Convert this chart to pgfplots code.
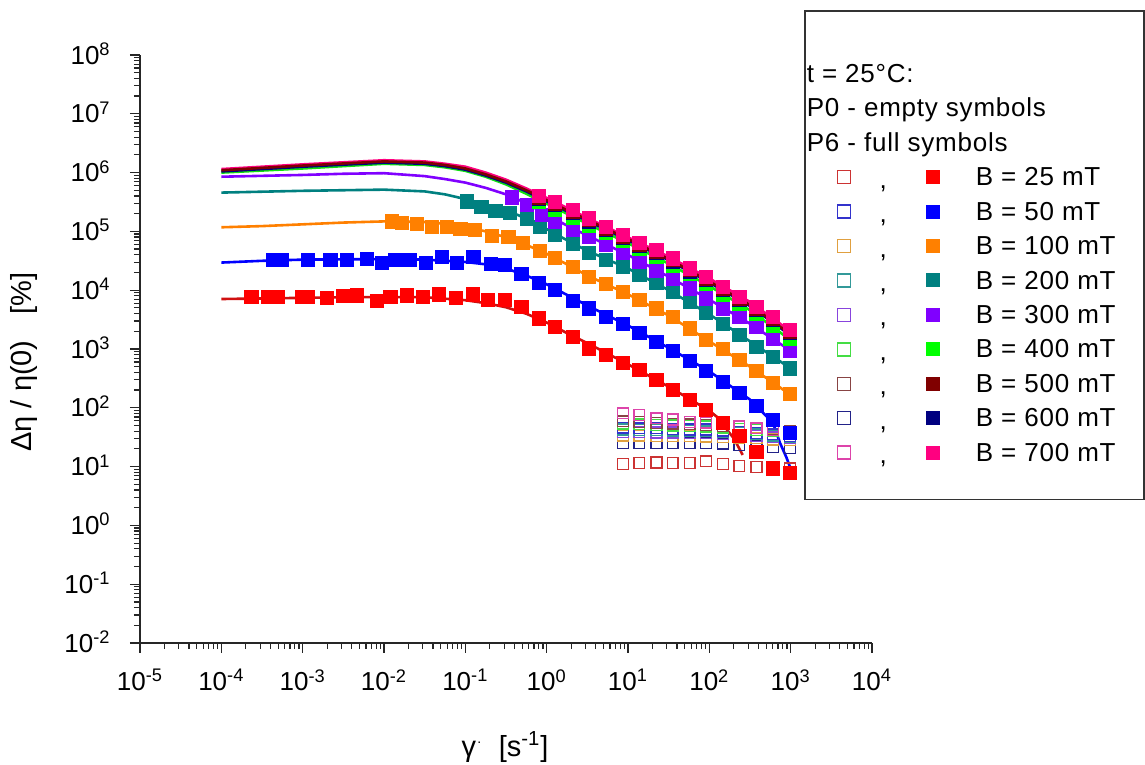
\documentclass[border=0pt]{standalone}
\usepackage{pgfplots}
\pgfplotsset{compat=1.18}
\usepackage{fontspec}
\setmainfont{Liberation Sans}
\newfontfamily\legfont[LetterSpace=3]{Liberation Sans}
\definecolor{c1}{HTML}{FF0000}\definecolor{l1}{HTML}{D01010}
\definecolor{c2}{HTML}{0000FF}
\definecolor{c3}{HTML}{FF8000}
\definecolor{c4}{HTML}{008080}
\definecolor{c5}{HTML}{8000FF}
\definecolor{c6}{HTML}{00FF00}\definecolor{l6}{HTML}{10E010}
\definecolor{c7}{HTML}{800000}
\definecolor{c8}{HTML}{000080}
\definecolor{c9}{HTML}{FF0080}
\definecolor{o1}{HTML}{CC3333}
\definecolor{o2}{HTML}{3333CC}
\definecolor{o3}{HTML}{E0A040}
\definecolor{o4}{HTML}{339999}
\definecolor{o5}{HTML}{8844DD}
\definecolor{o6}{HTML}{44DD44}
\definecolor{o7}{HTML}{884444}
\definecolor{o8}{HTML}{222288}
\definecolor{o9}{HTML}{DD44AA}
\newcommand\tfs{\fontsize{13}{15}\selectfont}
\newcommand\lfs{\legfont\fontsize{13}{15}\selectfont}
\newcommand\lstrut{\rule{0pt}{12.9pt}}
\newcommand\hdr[1]{\makebox[83pt][l]{\lstrut\hspace*{-84.5pt}#1}}
\newcommand\ent[1]{\makebox[83pt][l]{\lstrut #1}}
\pgfplotsset{
  legkey/.style 2 args={legend image code/.code={
     \path[draw=none, fill=none] (0pt,-1pt) rectangle (84.5pt,1pt);
     \draw[draw=#1, fill=none, line width=0.7pt] (15.25pt,-3.25pt) rectangle (21.75pt,3.25pt);
     \node[overlay, inner sep=0pt, font=\lfs, text=black] at (36pt,-7pt) {,};
     \fill[#2, draw=none] (59.5pt,-3.5pt) rectangle (66.5pt,3.5pt);
  }},
  fs/.style={only marks, mark=square*, mark size=3.3pt, color=#1, forget plot},
  os/.style={only marks, mark=square, mark size=2.7pt, mark options={line width=0.7pt}, color=#1, forget plot},
  ln/.style={no marks, line width=1.3pt, color=#1, forget plot},
}
\begin{document}
\begin{tikzpicture}
\useasboundingbox (0,0) rectangle (572.5pt,382.5pt);
\begin{axis}[
  at={(70pt,61pt)}, anchor=south west,
  scale only axis, width=366pt, height=294pt,
  xmode=log, ymode=log,
  xmin=1e-5, xmax=1e4, ymin=1e-2, ymax=1e8,
  axis x line*=bottom, axis y line*=left,
  axis line style={line width=0.75pt, black!85},
  tick align=outside,
  major tick length=5pt, minor tick length=3pt,
  every tick/.append style={black!85, line width=0.6pt},
  xtick={1e-5,1e-4,1e-3,1e-2,1e-1,1,1e1,1e2,1e3,1e4},
  xticklabels={10\textsuperscript{-5},10\textsuperscript{-4},10\textsuperscript{-3},10\textsuperscript{-2},10\textsuperscript{-1},10\textsuperscript{0},10\textsuperscript{1},10\textsuperscript{2},10\textsuperscript{3},10\textsuperscript{4}},
  ytick={1e-2,1e-1,1,1e1,1e2,1e3,1e4,1e5,1e6,1e7,1e8},
  yticklabels={10\textsuperscript{-2},10\textsuperscript{-1},10\textsuperscript{0},10\textsuperscript{1},10\textsuperscript{2},10\textsuperscript{3},10\textsuperscript{4},10\textsuperscript{5},10\textsuperscript{6},10\textsuperscript{7},10\textsuperscript{8}},
  tick label style={font=\tfs},
  xticklabel style={anchor=north, inner sep=0pt, yshift=-8pt},
  yticklabel style={anchor=base east, inner sep=0pt, yshift=-4.6pt, xshift=-9.5pt},
  xlabel={γ\kern0.05em\raisebox{0.45em}{\scriptsize .}\hspace{0.6em}[s\textsuperscript{-1}]},
  ylabel={Δη / η(0)\hspace{0.9em}[\%]},
  label style={font=\fontsize{14.5}{16}\selectfont},
  xlabel style={at={(axis description cs:0.4986,-0.177)}, anchor=center},
  ylabel style={at={(axis description cs:-0.158,0.478)}, anchor=center, rotate=0},
  legend cell align=left,
  legend style={at={(axis description cs:0.9071,1.0765)}, anchor=north west,
     draw=black!80, line width=0.8pt, fill=white,
     inner xsep=1pt, inner ysep=14.9pt, row sep=0pt, column sep=0pt,
     nodes={inner sep=0pt, text depth=4.32pt}, font=\lfs},
]
% ---------- P0 (empty symbols) ----------
\addplot[os=o1] coordinates {(8.71,11.0) (13.8,11.5) (22.4,11.7) (35.5,11.5) (57.5,11.5) (91.2,12.3) (148,11.0) (234,10.2) (380,9.77) (603,9.55) (977,9.33)};
\addplot[os=o8] coordinates {(8.71,25.1) (13.8,25.1) (22.4,25.1) (35.5,25.1) (57.5,25.1) (91.2,25.1) (148,24.5) (234,23.4) (380,21.9) (603,21.4) (977,20.4)};
\addplot[os=o3] coordinates {(8.71,33.9) (13.8,33.9) (22.4,33.1) (35.5,33.1) (57.5,33.1) (91.2,32.4) (148,31.6) (234,30.9) (380,30.2) (603,28.8) (977,28.2)};
\addplot[os=o5] coordinates {(8.71,38.9) (13.8,38.9) (22.4,38.0) (35.5,38.0) (57.5,37.2) (91.2,37.2) (148,35.5) (234,34.7) (380,33.1) (603,31.6) (977,30.2)};
\addplot[os=o4] coordinates {(8.71,42.7) (13.8,41.7) (22.4,41.7) (35.5,40.7) (57.5,40.7) (91.2,39.8) (148,38.9) (234,37.2) (380,35.5) (603,33.9) (977,32.4)};
\addplot[os=o2] coordinates {(8.71,45.7) (13.8,44.7) (22.4,44.7) (35.5,43.7) (57.5,42.7) (91.2,42.7) (148,40.7) (234,38.9) (380,37.2) (603,35.5) (977,33.1)};
\addplot[os=o6] coordinates {(8.71,53.7) (13.8,52.5) (22.4,51.3) (35.5,50.1) (57.5,49.0) (91.2,47.9) (148,45.7) (234,43.7) (380,41.7) (603,39.8) (977,37.2)};
\addplot[os=o7] coordinates {(8.71,58.9) (13.8,57.5) (22.4,55.0) (35.5,53.7) (57.5,52.5) (91.2,51.3) (148,49.0) (234,46.8) (380,44.7) (603,42.7) (977,39.8)};
\addplot[os=o9] coordinates {(8.71,80.5) (13.8,75.9) (22.4,66.1) (35.5,63.1) (57.5,57.5) (91.2,56.2) (148,52.5) (234,47.9) (380,44.7) (603,41.7) (977,38.0)};
% ---------- 25 mT ----------
\addplot[ln=l1] coordinates {(1e-4,7080) (3.16e-4,7240) (1e-3,7410) (3.16e-3,7590) (1e-2,7670) (3.16e-2,7590) (0.1,6760) (0.178,6030) (0.316,5130) (0.562,3980) (1,2820) (1.778,1862) (3.16,1259) (10,550) (31.6,229) (100,89.1) (123,70.8) (200,30.2) (257,15.8)};
\addplot[fs=c1] coordinates {(0.000234,7590) (0.000380,7590) (0.000501,7590) (0.000977,7590) (0.00117,7590) (0.00200,7410) (0.00309,7940) (0.00468,8130) (0.00813,6610) (0.0120,7590) (0.0191,8130) (0.0302,7760) (0.0468,8510) (0.0759,7410) (0.123,8510) (0.191,6920) (0.309,6920) (0.490,5130) (0.794,3310) (1.26,2340) (2.09,1585) (3.31,1023) (5.37,794) (8.71,589) (13.8,437) (22.4,295) (35.5,204) (57.5,138) (91.2,91.2) (148,55.0) (234,33.1) (380,17.8) (603,9.33) (977,7.76)};
% ---------- 50 mT ----------
\addplot[ln=c2] coordinates {(1e-4,29500) (3.16e-4,31600) (1e-3,33100) (1e-2,33900) (3.16e-2,33100) (0.1,30200) (0.178,27540) (0.316,23440) (0.562,17780) (1,12590) (1.778,8320) (3.16,5500) (10,2510) (31.6,1047) (100,417) (316,138) (603,56.2) (741,25.1) (891,14.1) (977,10.0)};
\addplot[fs=c2] coordinates {(0.000437,32400) (0.000550,32400) (0.00117,32400) (0.00219,32400) (0.00347,32400) (0.00617,33900) (0.00933,29500) (0.0138,32400) (0.0209,32400) (0.0324,29500) (0.0513,37200) (0.0794,28800) (0.126,37200) (0.204,28200) (0.309,26900) (0.490,19100) (0.794,13200) (1.26,10000) (2.09,6610) (3.31,4900) (5.37,3550) (8.71,2690) (13.8,1905) (22.4,1318) (35.5,933) (57.5,631) (91.2,427) (148,275) (234,178) (380,107) (603,61.7) (977,37.2)};
% ---------- 100 mT ----------
\addplot[ln=c3] coordinates {(1e-4,117500) (3.16e-4,123000) (1e-3,131800) (3.16e-3,141300) (1e-2,147900) (3.16e-2,144500) (0.0562,134900) (0.1,120200) (0.178,100000) (0.316,79400) (0.562,58900) (1,41700) (1.778,27540) (3.16,17780) (10,8510) (31.6,3720) (100,1349) (316,501) (1000,166)};
\addplot[fs=c3] coordinates {(0.0126,148000) (0.0166,138000) (0.0251,135000) (0.0389,117500) (0.0589,117500) (0.0871,112000) (0.132,105000) (0.214,83200) (0.339,81300) (0.513,63100) (0.832,46800) (1.26,35500) (2.09,25100) (3.31,17000) (5.37,12900) (8.71,9330) (13.8,6760) (22.4,4900) (35.5,3470) (57.5,2240) (91.2,1445) (148,1000) (234,646) (380,427) (603,263) (977,170)};
% ---------- 200 mT ----------
\addplot[ln=c4] coordinates {(1e-4,457000) (1e-3,490000) (1e-2,513000) (3.16e-2,478600) (0.0562,426600) (0.1,354800) (0.178,288400) (0.316,229100) (0.562,166000) (1,109600) (1.778,70800) (3.16,46800) (10,23400) (31.6,10000) (100,3890) (316,1349) (1000,468)};
\addplot[fs=c4] coordinates {(0.105,324000) (0.158,257000) (0.234,224000) (0.355,209000) (0.575,162000) (0.832,120000) (1.26,87100) (2.09,61700) (3.31,43700) (5.37,32400) (8.71,25100) (13.8,18200) (22.4,13180) (35.5,9330) (57.5,6460) (91.2,4170) (148,2690) (234,1738) (380,1096) (603,741) (977,468)};
% ---------- 300 mT ----------
\addplot[ln=c5] coordinates {(1e-4,851000) (1e-3,912000) (3.16e-3,955000) (1e-2,977000) (3.16e-2,871000) (0.0562,776000) (0.1,676000) (0.178,550000) (0.316,426600) (0.562,302000) (1,190500) (1.778,125900) (3.16,85100) (10,39800) (31.6,16980) (100,6920) (316,2690) (1000,933)};
\addplot[fs=c5] coordinates {(0.372,380000) (0.575,282000) (0.871,190500) (1.26,148000) (2.09,107000) (3.31,79400) (5.37,58900) (8.71,42700) (13.8,30200) (22.4,21400) (35.5,15500) (57.5,10700) (91.2,7240) (148,4900) (234,3550) (380,2340) (603,1479) (977,933)};
% ---------- 400 mT ----------
\addplot[fs=c6] coordinates {(0.794,316000) (1.26,234000) (2.09,170000) (3.31,126000) (5.37,93300) (8.71,69200) (13.8,50100) (22.4,37200) (35.5,26300) (57.5,19050) (91.2,12600) (148,8510) (234,5890) (380,3980) (603,2510) (977,1479)};
\addplot[ln=l6] coordinates {(1e-4,1000000) (1e-3,1175000) (1e-2,1413000) (3.16e-2,1349000) (0.0562,1230000) (0.1,1072000) (0.178,851000) (0.316,631000) (0.562,436500) (1,295100) (1.778,199500) (3.16,134900) (10,63100) (31.6,28200) (100,11750) (316,4570) (1000,1413)};
% ---------- 600 mT ----------
\addplot[fs=c8] coordinates {(0.794,355000) (1.26,282000) (2.09,209000) (3.31,148000) (5.37,107000) (8.71,77600) (13.8,56200) (22.4,42700) (35.5,30900) (57.5,20900) (91.2,15100) (148,10200) (234,6920) (380,4680) (603,3160) (977,1905)};
\addplot[ln=c8] coordinates {(1e-4,1047000) (1e-3,1259000) (1e-2,1479000) (3.16e-2,1413000) (0.0562,1288000) (0.1,1122000) (0.178,891000) (0.316,676000) (0.562,479000) (1,324000) (1.778,219000) (3.16,151400) (10,70800) (31.6,32400) (100,13490) (316,5370) (1000,1698)};
% ---------- 500 mT ----------
\addplot[fs=c7] coordinates {(0.794,372000) (1.26,295000) (2.09,219000) (3.31,155000) (5.37,112000) (8.71,81300) (13.8,58900) (22.4,44700) (35.5,32400) (57.5,21900) (91.2,15850) (148,10700) (234,7240) (380,4900) (603,3310) (977,1995)};
% ---------- 700 mT ----------
\addplot[fs=c9] coordinates {(0.794,398000) (1.26,316000) (2.09,234000) (3.31,166000) (5.37,120000) (8.71,87100) (13.8,63100) (22.4,47900) (35.5,34700) (57.5,23400) (91.2,17000) (148,11480) (234,7760) (380,5250) (603,3550) (977,2140)};
\addplot[ln=c9] coordinates {(1e-4,1148000) (1e-3,1380000) (1e-2,1622000) (3.16e-2,1549000) (0.0562,1413000) (0.1,1259000) (0.178,1000000) (0.316,758600) (0.562,537000) (1,371500) (1.778,251200) (3.16,169800) (10,79400) (31.6,37200) (100,15850) (316,6310) (1000,1995)};
\addplot[ln=c7] coordinates {(1e-4,1096000) (1e-3,1318000) (1e-2,1549000) (3.16e-2,1479000) (0.0562,1349000) (0.1,1175000) (0.178,933000) (0.316,708000) (0.562,501000) (1,339000) (1.778,229000) (3.16,158500) (10,74100) (31.6,33900) (100,14130) (316,5620) (1000,1778)};
% ---------- legend ----------
\addlegendimage{empty legend}\addlegendentry{\rule{0pt}{3.68pt}}
\addlegendimage{empty legend}\addlegendentry{\hdr{t = 25°C:}}
\addlegendimage{empty legend}\addlegendentry{\hdr{P0 - empty symbols}}
\addlegendimage{empty legend}\addlegendentry{\hdr{P6 - full symbols}}
\addlegendimage{legkey={o1}{c1}}\addlegendentry{\ent{B = 25 mT}}
\addlegendimage{legkey={o2}{c2}}\addlegendentry{\ent{B = 50 mT}}
\addlegendimage{legkey={o3}{c3}}\addlegendentry{\ent{B = 100 mT}}
\addlegendimage{legkey={o4}{c4}}\addlegendentry{\ent{B = 200 mT}}
\addlegendimage{legkey={o5}{c5}}\addlegendentry{\ent{B = 300 mT}}
\addlegendimage{legkey={o6}{c6}}\addlegendentry{\ent{B = 400 mT}}
\addlegendimage{legkey={o7}{c7}}\addlegendentry{\ent{B = 500 mT}}
\addlegendimage{legkey={o8}{c8}}\addlegendentry{\ent{B = 600 mT}}
\addlegendimage{legkey={o9}{c9}}\addlegendentry{\ent{B = 700 mT}}
\end{axis}
\end{tikzpicture}
\end{document}
